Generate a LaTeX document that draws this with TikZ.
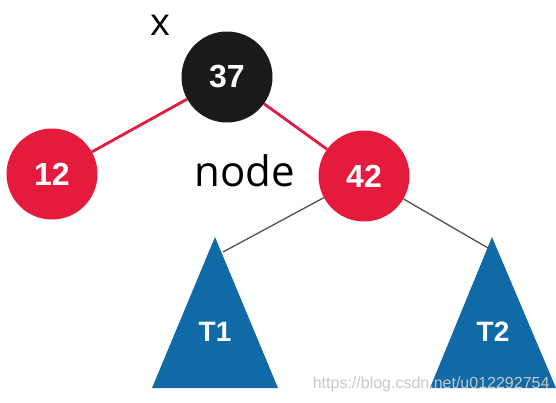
\documentclass[tikz,border=0pt]{standalone}
\usepackage{fontspec}
\usepackage{tikz}
\usetikzlibrary{calc}
\newfontfamily\keyfont{Liberation Sans}
\newfontfamily\labelfont{Open Sans}
\definecolor{rbred}{RGB}{228,27,60}
\definecolor{rbblack}{RGB}{26,26,26}
\definecolor{subblue}{RGB}{16,106,168}
\definecolor{edgegray}{RGB}{80,80,80}
\tikzstyle{rbnode} =[
    circle,
    minimum size=91pt,
    inner sep=0pt,
    text=white,
    font=\keyfont\bfseries\fontsize{32}{32}\selectfont
    ]
\tikzstyle{rededge} = [
    draw=rbred,
    line width=2.8pt
    ]
\tikzstyle{subedge} = [
    draw=edgegray,
    line width=1.3pt
    ]
\tikzstyle{subtree} = [
    fill=subblue
    ]
\tikzstyle{subname} = [
    text=white,
    font=\keyfont\bfseries\fontsize{28}{28}\selectfont
    ]

\begin{document}
\begin{tikzpicture}[x=1pt,y=-1pt]
\useasboundingbox (0,0) rectangle (556,402);
% subtrees
\fill[subtree] (215,237) -- (278,388) -- (152,388) -- cycle;
\fill[subtree] (492,237) -- (556,388) -- (430,388) -- cycle;
\node[subname] (t1) at (215,332) {T1};
\node[subname] (t2) at (493,332) {T2};
\coordinate (t1in) at (223,252);
\coordinate (t2in) at (488,248);
% nodes
\node[rbnode, fill=rbblack] (n37) at (227,77) {37};
\node[rbnode, fill=rbred] (n12) at (52,174) {12};
\node[rbnode, fill=rbred] (n42) at (364,176) {42};
% edges
\draw[rededge] (n37) -- (n12);
\draw[rededge] (n37) -- (n42);
\draw[subedge] (n42) -- (t1in);
\draw[subedge] (n42) -- (t2in);
% labels
\node[font=\labelfont\fontsize{38}{38}\selectfont] (xlab) at (160,25) {x};
\node[font=\labelfont\fontsize{42}{42}\selectfont] (nodelab) at (245,171) {node};
\node[font=\keyfont\fontsize{16}{16}\selectfont, text=black!22, anchor=base east] (mark) at (553,388) {https://blog.csdn.net/u012292754};
\end{tikzpicture}
\end{document}
